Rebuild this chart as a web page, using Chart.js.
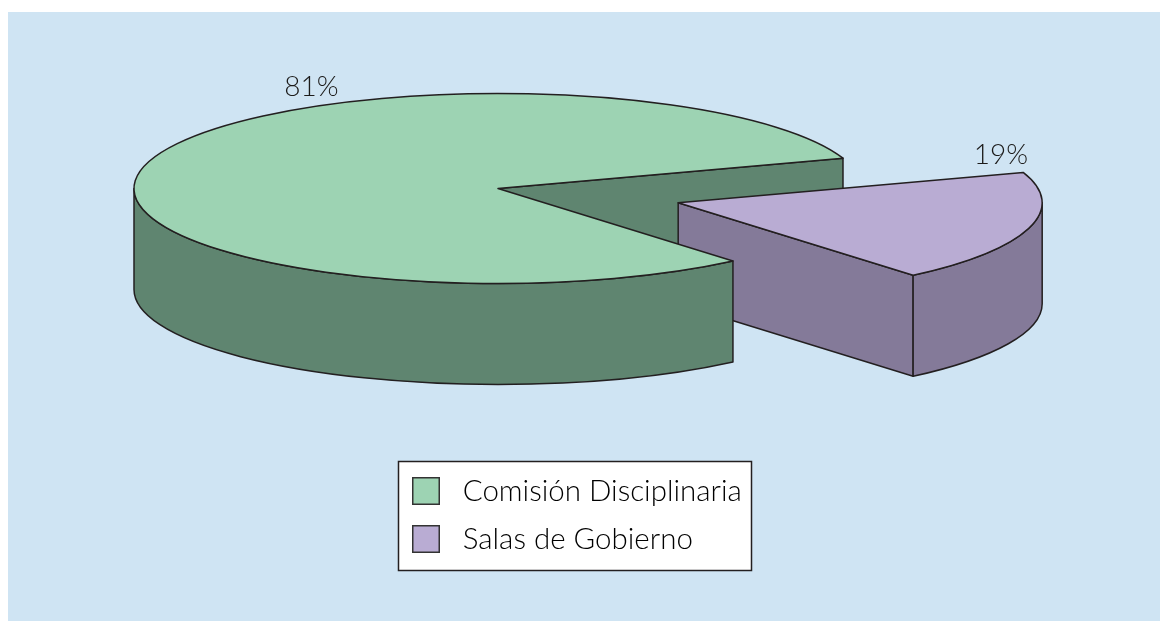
<!DOCTYPE html>
<html>
<head>
<meta charset="utf-8">
<style>html,body{margin:0;padding:0;background:#fff}canvas{display:block}</style>
<script src="https://cdn.jsdelivr.net/npm/chart.js@4"></script>
</head>
<body>
<canvas id="c" width="1160" height="621"></canvas>
<script>
const categories = ['Comisión Disciplinaria', 'Salas de Gobierno'];
const values = [81, 19];
const topColors = ['#9dd3b3', '#b9acd3'];
const wallColors = ['#5f8570', '#847a99'];
const valueLabelAnchors = [[311.5, 87], [1001, 155]];

const INK = '#231f20', FONT = 'Lato';
const RX = 364, RY = 95, DEPTH = 101, R = 100;
const SX = RX / R, SY = RY / R, CX = 498, CY = 188.5;
const EXPLODE_INDEX = 1, EXPLODE_X = 49.5, EXPLODE_Y = 15;

function swatch(color) {
  const s = document.createElement('canvas');
  s.width = 36; s.height = 28;
  const g = s.getContext('2d');
  g.fillStyle = color; g.fillRect(0, 0, 28, 28);
  g.strokeStyle = '#333'; g.lineWidth = 1.5; g.strokeRect(.75, .75, 26.5, 26.5);
  return s;
}
function geom(arc) {
  const p = arc.getProps(['x', 'y', 'startAngle', 'endAngle', 'outerRadius'], true);
  return {
    x: CX + (p.x - CX) * SX,
    y: CY + (p.y - CY) * SY,
    rx: p.outerRadius * SX, ry: p.outerRadius * SY,
    a: p.startAngle, b: p.endAngle
  };
}
function paint(ctx, fill) {
  ctx.fillStyle = fill; ctx.fill();
  ctx.strokeStyle = INK; ctx.lineWidth = 1.5; ctx.lineJoin = 'round'; ctx.stroke();
}
function cutWall(ctx, g, fill) {
  for (const [t, vis] of [[g.a, -Math.cos(g.a)], [g.b, Math.cos(g.b)]]) {
    if (vis <= 0) continue;
    const ex = g.x + Math.cos(t) * g.rx, ey = g.y + Math.sin(t) * g.ry;
    ctx.beginPath(); ctx.moveTo(g.x, g.y); ctx.lineTo(ex, ey);
    ctx.lineTo(ex, ey + DEPTH); ctx.lineTo(g.x, g.y + DEPTH); ctx.closePath();
    paint(ctx, fill);
  }
}
function rimWall(ctx, g, fill) {
  const T = Math.PI * 2;
  for (let k = -1; k <= 1; k++) {
    const a = Math.max(g.a, k * T), b = Math.min(g.b, k * T + Math.PI);
    if (b <= a) continue;
    ctx.beginPath();
    ctx.ellipse(g.x, g.y, g.rx, g.ry, 0, a, b);
    ctx.ellipse(g.x, g.y + DEPTH, g.rx, g.ry, 0, b, a, true);
    ctx.closePath();
    paint(ctx, fill);
  }
}
const pie3d = {
  id: 'pie3d',
  afterLayout(chart) {
    const l = chart.legend;
    l.left = 393.5; l.top = 457.75; l.right = 755; l.bottom = 621;
    l.width = l.right - l.left; l.height = l.bottom - l.top;
    chart.chartArea = {left: CX - 150, right: CX + 150, top: CY - 150, bottom: CY + 150, width: 300, height: 300};
  },
  afterDatasetUpdate(chart) {
    const arc = chart.getDatasetMeta(0).data[EXPLODE_INDEX];
    arc.x += EXPLODE_X; arc.y += EXPLODE_Y;
  },
  beforeDraw(chart) {
    const c = chart.ctx;
    c.save();
    c.fillStyle = '#cfe4f3'; c.fillRect(8, 12, 1152, 609);
    c.fillStyle = '#fff'; c.strokeStyle = INK; c.lineWidth = 1.5;
    c.fillRect(398.5, 461.5, 353, 109); c.strokeRect(398.5, 461.5, 353, 109);
    c.restore();
  },
  beforeDatasetDraw(chart) {
    const c = chart.ctx, arcs = chart.getDatasetMeta(0).data, g = arcs.map(geom);
    c.save();
    cutWall(c, g[0], wallColors[0]);
    cutWall(c, g[1], wallColors[1]);
    rimWall(c, g[1], wallColors[1]);
    rimWall(c, g[0], wallColors[0]);
    c.restore();
    c.save();
    c.translate(CX, CY); c.scale(SX, SY); c.translate(-CX, -CY);
  },
  afterDatasetDraw(chart) {
    const c = chart.ctx, arcs = chart.getDatasetMeta(0).data;
    c.restore();
    c.save();
    c.strokeStyle = INK; c.lineWidth = 1.5; c.lineJoin = 'round';
    arcs.map(geom).forEach(g => {
      c.beginPath(); c.moveTo(g.x, g.y);
      c.ellipse(g.x, g.y, g.rx, g.ry, 0, g.a, g.b);
      c.closePath(); c.stroke();
    });
    c.fillStyle = '#1c1b1a'; c.font = '300 28px ' + FONT;
    c.textAlign = 'center'; c.textBaseline = 'middle';
    values.forEach((v, i) => c.fillText(v + '%', valueLabelAnchors[i][0], valueLabelAnchors[i][1]));
    c.restore();
  }
};
new Chart(document.getElementById('c'), {
  type: 'pie',
  data: {
    labels: categories,
    datasets: [{
      data: values,
      backgroundColor: topColors,
      borderWidth: 0,
      hoverOffset: 0,
      clip: false
    }]
  },
  options: {
    responsive: false,
    animation: false,
    radius: R,
    rotation: 139.8,
    events: [],
    plugins: {
      tooltip: {enabled: false},
      legend: {
        position: 'left',
        align: 'start',
        labels: {
          font: {family: FONT, size: 29.5, weight: '300'},
          color: '#1c1b1a',
          padding: 18.5,
          boxHeight: 28,
          usePointStyle: true,
          pointStyleWidth: 36,
          generateLabels: chart => chart.data.labels.map((text, i) => ({
            text, index: i, datasetIndex: 0, hidden: false,
            fillStyle: topColors[i], strokeStyle: INK, lineWidth: 0,
            pointStyle: swatch(topColors[i])
          }))
        }
      }
    }
  },
  plugins: [pie3d]
});
</script>
</body>
</html>
